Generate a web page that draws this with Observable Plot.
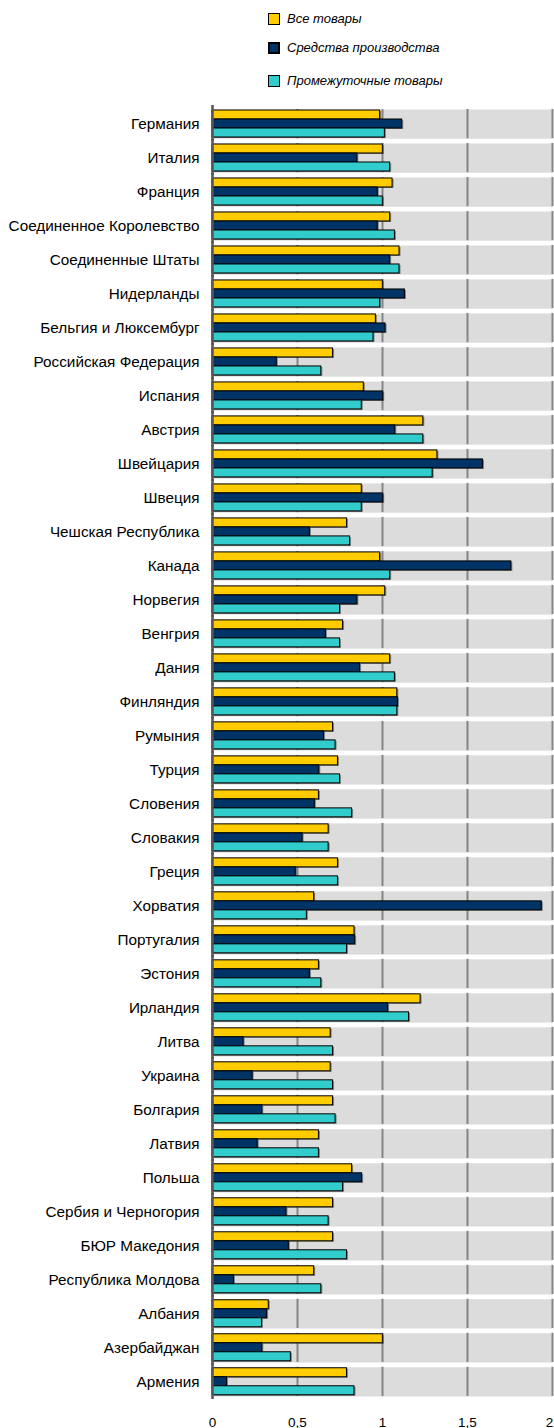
<!DOCTYPE html>
<html>
<head>
<meta charset="utf-8">
<script src="https://cdn.jsdelivr.net/npm/d3@7"></script>
<script src="https://cdn.jsdelivr.net/npm/@observablehq/plot@0.6"></script>
<style>
  html, body { margin: 0; padding: 0; background: #fff; }
  body { width: 554px; height: 1428px; overflow: hidden; font-family: "Liberation Sans", Arial, sans-serif; }
  #legend { position: relative; width: 554px; height: 100px; }
  .item { position: absolute; left: 268px; height: 14px; }
  .sw { position: absolute; left: 0; top: 1px; width: 12px; height: 12px; box-sizing: border-box; border: 1px solid #000; }
  .lb { position: absolute; left: 19px; top: -1px; white-space: nowrap; font-style: italic; font-size: 13px; line-height: 16px; color: #000; }
  #chart svg { display: block; }
</style>
</head>
<body>
<div id="legend"></div>
<div id="chart"></div>
<script>
const countries = [
  "Германия", "Италия", "Франция", "Соединенное Королевство", "Соединенные Штаты",
  "Нидерланды", "Бельгия и Люксембург", "Российская Федерация", "Испания", "Австрия",
  "Швейцария", "Швеция", "Чешская Республика", "Канада", "Норвегия", "Венгрия",
  "Дания", "Финляндия", "Румыния", "Турция", "Словения", "Словакия", "Греция",
  "Хорватия", "Португалия", "Эстония", "Ирландия", "Литва", "Украина", "Болгария",
  "Латвия", "Польша", "Сербия и Черногория", "БЮР Македония", "Республика Молдова",
  "Албания", "Азербайджан", "Армения"
];
const allGoods = [
  0.986, 1.002, 1.059, 1.045, 1.100, 1.002, 0.961, 0.709, 0.890, 1.240,
  1.323, 0.878, 0.791, 0.986, 1.016, 0.768, 1.045, 1.087, 0.709, 0.738,
  0.626, 0.683, 0.738, 0.598, 0.835, 0.626, 1.224, 0.695, 0.695, 0.709,
  0.626, 0.821, 0.709, 0.709, 0.598, 0.331, 1.002, 0.791
];
const capitalGoods = [
  1.116, 0.852, 0.972, 0.972, 1.045, 1.132, 1.018, 0.378, 1.004, 1.075,
  1.591, 1.004, 0.573, 1.758, 0.852, 0.667, 0.868, 1.091, 0.656, 0.628,
  0.602, 0.530, 0.490, 1.937, 0.839, 0.573, 1.033, 0.183, 0.236, 0.293,
  0.266, 0.880, 0.435, 0.449, 0.126, 0.321, 0.293, 0.085
];
const intermediateGoods = [
  1.014, 1.045, 1.002, 1.073, 1.100, 0.986, 0.947, 0.640, 0.878, 1.240,
  1.295, 0.878, 0.809, 1.045, 0.750, 0.750, 1.073, 1.087, 0.724, 0.750,
  0.821, 0.683, 0.738, 0.555, 0.791, 0.640, 1.156, 0.709, 0.709, 0.724,
  0.626, 0.768, 0.683, 0.791, 0.640, 0.291, 0.461, 0.835
];
const seriesNames = ["Все товары", "Средства производства", "Промежуточные товары"];
const seriesColors = ["#FFCC00", "#003366", "#33CCCC"];
const xTicks = [0, 0.5, 1, 1.5, 2];
const gridTicks = [0.5, 1, 1.5, 2];

const seriesValues = [allGoods, capitalGoods, intermediateGoods];
const data = [];
countries.forEach((c, i) => {
  seriesNames.forEach((s, j) => data.push({country: c, series: s, value: seriesValues[j][i]}));
});

// Legend
const legend = document.getElementById("legend");
const legendTops = [12, 41, 74];
seriesNames.forEach((s, j) => {
  const it = document.createElement("div");
  it.className = "item";
  it.style.top = legendTops[j] + "px";
  const sw = document.createElement("div");
  sw.className = "sw";
  sw.style.background = seriesColors[j];
  if (j === 1) sw.style.borderWidth = "2px";
  const lb = document.createElement("div");
  lb.className = "lb";
  lb.textContent = s;
  it.appendChild(sw); it.appendChild(lb);
  legend.appendChild(it);
});

const chart = Plot.plot({
  width: 554,
  height: 1328,
  marginTop: 9,
  marginBottom: 32,
  marginLeft: 212,
  marginRight: 2,
  style: {fontFamily: "'Liberation Sans', Arial, sans-serif", fontSize: "15.3px", color: "#000", background: "#fff", overflow: "visible"},
  x: {domain: [0, 2], ticks: xTicks, tickFormat: d => String(d).replace(".", ","), tickSize: 0, tickPadding: 21, label: null},
  y: {domain: seriesNames, axis: null, paddingInner: 0, paddingOuter: 0.03},
  fy: {domain: countries, axis: "left", paddingInner: 0.14, paddingOuter: 0, tickSize: 0, tickPadding: 13, label: null},
  color: {domain: seriesNames, range: seriesColors},
  marks: [
    Plot.frame({fill: "#dcdcdc", stroke: null}),
    Plot.ruleX(gridTicks, {x: d => d, stroke: "#858585", strokeWidth: 2}),
    Plot.barX(data, {x: "value", y: "series", fy: "country", fill: "#333", fillOpacity: 0.55, dx: 1.5, dy: 1}),
    Plot.barX(data, {x: "value", y: "series", fy: "country", fill: "series", stroke: "#000", strokeWidth: 1}),
    Plot.ruleX([0], {x: d => d, stroke: "#555", strokeWidth: 2.5, insetTop: -4, insetBottom: -3})
  ]
});
document.getElementById("chart").appendChild(chart);

// x-axis tick labels slightly smaller
d3.select(chart).selectAll('g[aria-label^="x-axis"]').attr("font-size", "13.5px");
d3.select(chart).selectAll('g[aria-label^="x-axis"] text').filter(function() { return this.textContent === "2"; }).attr("dx", "-3");
</script>
</body>
</html>
